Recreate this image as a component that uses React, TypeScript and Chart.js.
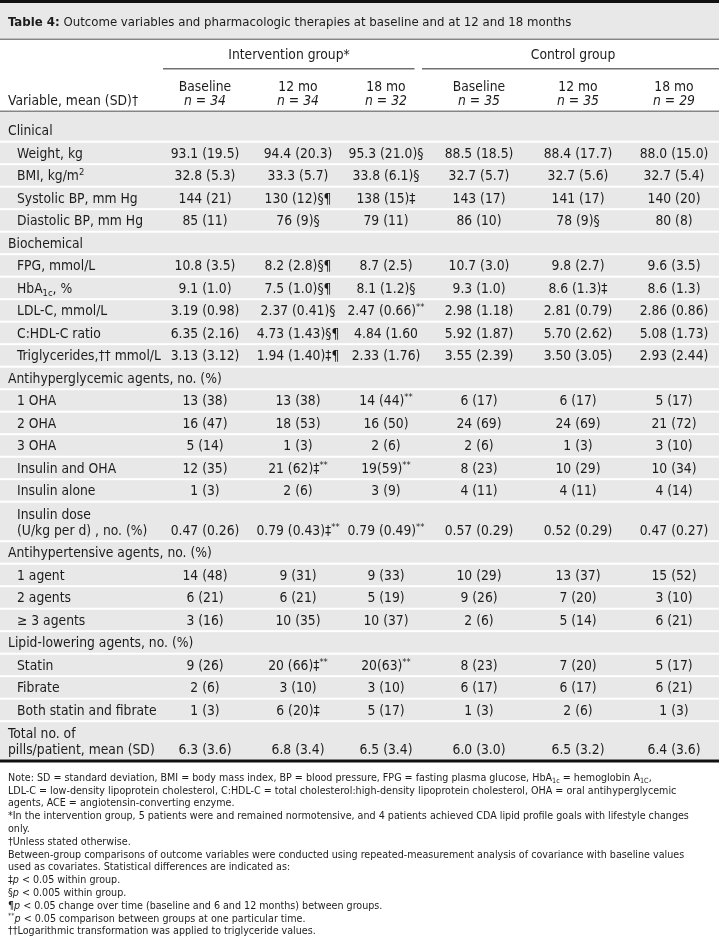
import React, { useEffect, useRef } from 'react';
import { Chart, registerables } from 'chart.js';

Chart.register(...registerables);

// ---------------- DATA ----------------
const titleText = '#{Table 4:} Outcome variables and pharmacologic therapies at baseline and at 12 and 18 months';
const groupHeaders = ['Intervention group*', 'Control group'];
const columnHeaders = ['Baseline', '12 mo', '18 mo', 'Baseline', '12 mo', '18 mo'];
const columnNs = ['~{n = 34}', '~{n = 34}', '~{n = 32}', '~{n = 35}', '~{n = 35}', '~{n = 29}'];
const variableHeader = 'Variable, mean (SD)†';

// each row label; '|' splits a two-line label
const rowLabels = [
  'Clinical',
  'Weight, kg',
  'BMI, kg/m^{2}',
  'Systolic BP, mm Hg',
  'Diastolic BP, mm Hg',
  'Biochemical',
  'FPG, mmol/L',
  'HbA_{1c}, %',
  'LDL-C, mmol/L',
  'C:HDL-C ratio',
  'Triglycerides,†† mmol/L',
  'Antihyperglycemic agents, no. (%)',
  '1 OHA',
  '2 OHA',
  '3 OHA',
  'Insulin and OHA',
  'Insulin alone',
  'Insulin dose|(U/kg per d) , no. (%)',
  'Antihypertensive agents, no. (%)',
  '1 agent',
  '2 agents',
  '≥ 3 agents',
  'Lipid-lowering agents, no. (%)',
  'Statin',
  'Fibrate',
  'Both statin and fibrate',
  'Total no. of|pills/patient, mean (SD)',
];
// true = section heading / unindented row
const rowIsSection = [
  true, false, false, false, false,
  true, false, false, false, false, false,
  true, false, false, false, false, false, false,
  true, false, false, false,
  true, false, false, false,
  true,
];

const interventionBaseline = [
  '', '93.1 (19.5)', '32.8 (5.3)', '144 (21)', '85 (11)',
  '', '10.8 (3.5)', '9.1 (1.0)', '3.19 (0.98)', '6.35 (2.16)', '3.13 (3.12)',
  '', '13 (38)', '16 (47)', '5 (14)', '12 (35)', '1 (3)', '0.47 (0.26)',
  '', '14 (48)', '6 (21)', '3 (16)',
  '', '9 (26)', '2 (6)', '1 (3)',
  '6.3 (3.6)',
];
const intervention12 = [
  '', '94.4 (20.3)', '33.3 (5.7)', '130 (12)§¶', '76 (9)§',
  '', '8.2 (2.8)§¶', '7.5 (1.0)§¶', '2.37 (0.41)§', '4.73 (1.43)§¶', '1.94 (1.40)‡¶',
  '', '13 (38)', '18 (53)', '1 (3)', '21 (62)‡^{**}', '2 (6)', '0.79 (0.43)‡^{**}',
  '', '9 (31)', '6 (21)', '10 (35)',
  '', '20 (66)‡^{**}', '3 (10)', '6 (20)‡',
  '6.8 (3.4)',
];
const intervention18 = [
  '', '95.3 (21.0)§', '33.8 (6.1)§', '138 (15)‡', '79 (11)',
  '', '8.7 (2.5)', '8.1 (1.2)§', '2.47 (0.66)^{**}', '4.84 (1.60', '2.33 (1.76)',
  '', '14 (44)^{**}', '16 (50)', '2 (6)', '19(59)^{**}', '3 (9)', '0.79 (0.49)^{**}',
  '', '9 (33)', '5 (19)', '10 (37)',
  '', '20(63)^{**}', '3 (10)', '5 (17)',
  '6.5 (3.4)',
];
const controlBaseline = [
  '', '88.5 (18.5)', '32.7 (5.7)', '143 (17)', '86 (10)',
  '', '10.7 (3.0)', '9.3 (1.0)', '2.98 (1.18)', '5.92 (1.87)', '3.55 (2.39)',
  '', '6 (17)', '24 (69)', '2 (6)', '8 (23)', '4 (11)', '0.57 (0.29)',
  '', '10 (29)', '9 (26)', '2 (6)',
  '', '8 (23)', '6 (17)', '1 (3)',
  '6.0 (3.0)',
];
const control12 = [
  '', '88.4 (17.7)', '32.7 (5.6)', '141 (17)', '78 (9)§',
  '', '9.8 (2.7)', '8.6 (1.3)‡', '2.81 (0.79)', '5.70 (2.62)', '3.50 (3.05)',
  '', '6 (17)', '24 (69)', '1 (3)', '10 (29)', '4 (11)', '0.52 (0.29)',
  '', '13 (37)', '7 (20)', '5 (14)',
  '', '7 (20)', '6 (17)', '2 (6)',
  '6.5 (3.2)',
];
const control18 = [
  '', '88.0 (15.0)', '32.7 (5.4)', '140 (20)', '80 (8)',
  '', '9.6 (3.5)', '8.6 (1.3)', '2.86 (0.86)', '5.08 (1.73)', '2.93 (2.44)',
  '', '5 (17)', '21 (72)', '3 (10)', '10 (34)', '4 (14)', '0.47 (0.27)',
  '', '15 (52)', '3 (10)', '6 (21)',
  '', '5 (17)', '6 (21)', '1 (3)',
  '6.4 (3.6)',
];

const notes = [
  'Note: SD = standard deviation, BMI = body mass index, BP = blood pressure, FPG = fasting plasma glucose, HbA_{1c} = hemoglobin A_{1C},',
  'LDL-C = low-density lipoprotein cholesterol, C:HDL-C = total cholesterol:high-density lipoprotein cholesterol, OHA = oral antihyperglycemic',
  'agents, ACE = angiotensin-converting enzyme.',
  '*In the intervention group, 5 patients were and remained normotensive, and 4 patients achieved CDA lipid profile goals with lifestyle changes',
  'only.',
  '†Unless stated otherwise.',
  'Between-group comparisons of outcome variables were conducted using repeated-measurement analysis of covariance with baseline values',
  'used as covariates. Statistical differences are indicated as:',
  '‡~{p} < 0.05 within group.',
  '§~{p} < 0.005 within group.',
  '¶~{p} < 0.05 change over time (baseline and 6 and 12 months) between groups.',
  '^{**}~{p} < 0.05 comparison between groups at one particular time.',
  '††Logarithmic transformation was applied to triglyceride values.',
];

const dataColumns = [interventionBaseline, intervention12, intervention18, controlBaseline, control12, control18];

// ---------------- LAYOUT / STYLE ----------------
const W = 719;
const H = 938;
const FAMILY = '"DejaVu Sans Condensed", "DejaVu Sans", sans-serif';
const TEXT = '#1c1c1c';
const BAND = '#e8e8e8';
const RULE = '#858585';
const colX = [205, 298, 386, 479, 578, 674];
const groupX = [289, 573];
const underline = [[163, 414.5], [422, 719]];
const LABEL_X = 8;
const INDENT_X = 17;
const BODY_TOP = 112;
const FIRST_BOTTOM = 141.7;
const ROW_H = 22.5;
const DBL_H = 39.5;
const NOTE_Y0 = 776.7;
const NOTE_STEP = 12.8;

const rowBottoms: number[] = [];
{
  let b = FIRST_BOTTOM;
  rowLabels.forEach((l, i) => {
    if (i > 0) b += l.includes('|') ? DBL_H : ROW_H;
    rowBottoms.push(b);
  });
}
const rowTops = rowBottoms.map((b, i) => (i === 0 ? BODY_TOP : rowBottoms[i - 1]));
const rowBaseline = rowBottoms.map((b) => b - 6.5);

// ---------------- RICH TEXT ----------------
type Seg = { t: string; k: 'n' | 'sub' | 'sup' | 'i' | 'b' };
function parse(s: string): Seg[] {
  const out: Seg[] = [];
  let i = 0;
  let buf = '';
  while (i < s.length) {
    const c = s[i];
    if ((c === '_' || c === '^' || c === '~' || c === '#') && s[i + 1] === '{') {
      if (buf) { out.push({ t: buf, k: 'n' }); buf = ''; }
      const end = s.indexOf('}', i + 2);
      const k = c === '_' ? 'sub' : c === '^' ? 'sup' : c === '~' ? 'i' : 'b';
      out.push({ t: s.slice(i + 2, end), k });
      i = end + 1;
    } else {
      buf += c;
      i++;
    }
  }
  if (buf) out.push({ t: buf, k: 'n' });
  return out;
}
function segFont(k: Seg['k'], size: number) {
  if (k === 'b') return `bold ${size}px ${FAMILY}`;
  if (k === 'i') return `italic ${size}px ${FAMILY}`;
  if (k === 'sub' || k === 'sup') return `${(size * 0.68).toFixed(2)}px ${FAMILY}`;
  return `${size}px ${FAMILY}`;
}
function measureRich(ctx: CanvasRenderingContext2D, s: string, size: number) {
  let w = 0;
  for (const sg of parse(s)) {
    ctx.font = segFont(sg.k, size);
    w += ctx.measureText(sg.t).width;
  }
  return w;
}
function drawRich(ctx: CanvasRenderingContext2D, s: string, x: number, y: number, size: number, align: 'left' | 'center') {
  const total = measureRich(ctx, s, size);
  let cx = align === 'center' ? x - total / 2 : x;
  ctx.textAlign = 'left';
  ctx.textBaseline = 'alphabetic';
  ctx.fillStyle = TEXT;
  for (const sg of parse(s)) {
    ctx.font = segFont(sg.k, size);
    let dy = 0;
    if (sg.k === 'sub') dy = size * 0.22;
    if (sg.k === 'sup') dy = -size * 0.36;
    ctx.fillText(sg.t, cx, y + dy);
    cx += ctx.measureText(sg.t).width;
  }
}

// ---------------- PLUGIN ----------------
const sizes = { body: 13, title: 13, note: 11 };
let fitted = false;
function fitSizes(ctx: CanvasRenderingContext2D) {
  if (fitted) return;
  fitted = true;
  sizes.body = (100 * 144) / measureRich(ctx, 'Triglycerides,†† mmol/L', 100);
  sizes.title = (100 * 564) / measureRich(ctx, titleText, 100);
  sizes.note = (100 * 682) / measureRich(ctx, notes[3], 100);
}

const tablePlugin = {
  id: 'tablePlugin',
  beforeDatasetsDraw(chart: any) {
    const ctx: CanvasRenderingContext2D = chart.ctx;
    const X = (v: number) => chart.scales.x.getPixelForValue(v);
    const Y = (v: number) => chart.scales.y.getPixelForValue(v);
    fitSizes(ctx);
    ctx.save();
    ctx.fillStyle = '#ffffff';
    ctx.fillRect(0, 0, chart.width, chart.height);
    // title bar
    ctx.fillStyle = '#111111';
    ctx.fillRect(X(0), Y(0), X(W) - X(0), Y(3) - Y(0));
    ctx.fillStyle = BAND;
    ctx.fillRect(X(0), Y(3), X(W) - X(0), Y(38.5) - Y(3));
    ctx.fillStyle = RULE;
    ctx.fillRect(X(0), Y(38.5), X(W) - X(0), 1.5);
    // group underlines
    ctx.fillStyle = '#707070';
    underline.forEach(([a, b]) => ctx.fillRect(X(a), Y(68), X(b) - X(a), 1.5));
    // header bottom rule
    ctx.fillStyle = RULE;
    ctx.fillRect(X(0), Y(110.5), X(W) - X(0), 1.5);
    // body bands
    ctx.fillStyle = BAND;
    rowLabels.forEach((_, i) => {
      const top = i === 0 ? rowTops[i] : rowTops[i] + 1;
      const bottom = i === rowLabels.length - 1 ? rowBottoms[i] - 1.2 : rowBottoms[i] - 1;
      ctx.fillRect(X(0), Y(top), X(W) - X(0), Y(bottom) - Y(top));
    });
    // thick bottom rule
    ctx.fillStyle = '#111111';
    ctx.fillRect(X(0), Y(759.5), X(W) - X(0), 3);
    ctx.restore();
  },
  afterDatasetsDraw(chart: any) {
    const ctx: CanvasRenderingContext2D = chart.ctx;
    const X = (v: number) => chart.scales.x.getPixelForValue(v);
    const Y = (v: number) => chart.scales.y.getPixelForValue(v);
    ctx.save();
    // title
    drawRich(ctx, titleText, X(8), Y(26), sizes.title, 'left');
    // group headers
    groupHeaders.forEach((g, i) => drawRich(ctx, g, X(groupX[i]), Y(59), sizes.body, 'center'));
    // column headers
    columnHeaders.forEach((h, i) => {
      drawRich(ctx, h, X(colX[i]), Y(90.5), sizes.body, 'center');
      drawRich(ctx, columnNs[i], X(colX[i]), Y(104.5), sizes.body, 'center');
    });
    drawRich(ctx, variableHeader, X(LABEL_X), Y(104.5), sizes.body, 'left');
    // row labels (dataset 0) and data cells (datasets 1..6)
    chart.data.datasets.forEach((ds: any, di: number) => {
      const meta = chart.getDatasetMeta(di);
      meta.data.forEach((el: any, ri: number) => {
        const txt: string = ds.texts[ri];
        if (!txt) return;
        if (di === 0) {
          const parts = txt.split('|');
          if (parts.length === 2) {
            drawRich(ctx, parts[0], el.x, el.y - 16, sizes.body, 'left');
            const x2 = rowIsSection[ri] ? el.x : X(INDENT_X);
            drawRich(ctx, parts[1], x2, el.y, sizes.body, 'left');
          } else {
            drawRich(ctx, txt, el.x, el.y, sizes.body, 'left');
          }
        } else {
          drawRich(ctx, txt, el.x, el.y, sizes.body, 'center');
        }
      });
    });
    // notes
    notes.forEach((n, i) => drawRich(ctx, n, X(8), Y(NOTE_Y0 + i * NOTE_STEP + 4), sizes.note, 'left'));
    ctx.restore();
  },
};

export default function App() {
  const ref = useRef<HTMLCanvasElement>(null);
  useEffect(() => {
    document.body.style.margin = '0';
    const labelData = rowLabels.map((l, i) => ({
      x: rowIsSection[i] || l.includes('|') ? (rowIsSection[i] ? LABEL_X : INDENT_X) : INDENT_X,
      y: rowBaseline[i],
    }));
    const datasets: any[] = [
      { label: 'Variable', data: labelData, texts: rowLabels, pointRadius: 0 },
      ...dataColumns.map((col, ci) => ({
        label: columnHeaders[ci],
        data: col.map((_, ri) => ({ x: colX[ci], y: rowBaseline[ri] })),
        texts: col,
        pointRadius: 0,
      })),
    ];
    const chart = new Chart(ref.current as HTMLCanvasElement, {
      type: 'scatter',
      data: { datasets },
      options: {
        responsive: false,
        maintainAspectRatio: false,
        animation: false,
        events: [],
        layout: { padding: 0 },
        scales: {
          x: { type: 'linear', min: 0, max: W, display: false },
          y: { type: 'linear', min: 0, max: H, reverse: true, display: false },
        },
        plugins: { legend: { display: false }, tooltip: { enabled: false } },
      },
      plugins: [tablePlugin],
    } as any);
    return () => chart.destroy();
  }, []);
  return <canvas ref={ref} width={W} height={H} style={{ display: 'block', width: W, height: H }} />;
}
